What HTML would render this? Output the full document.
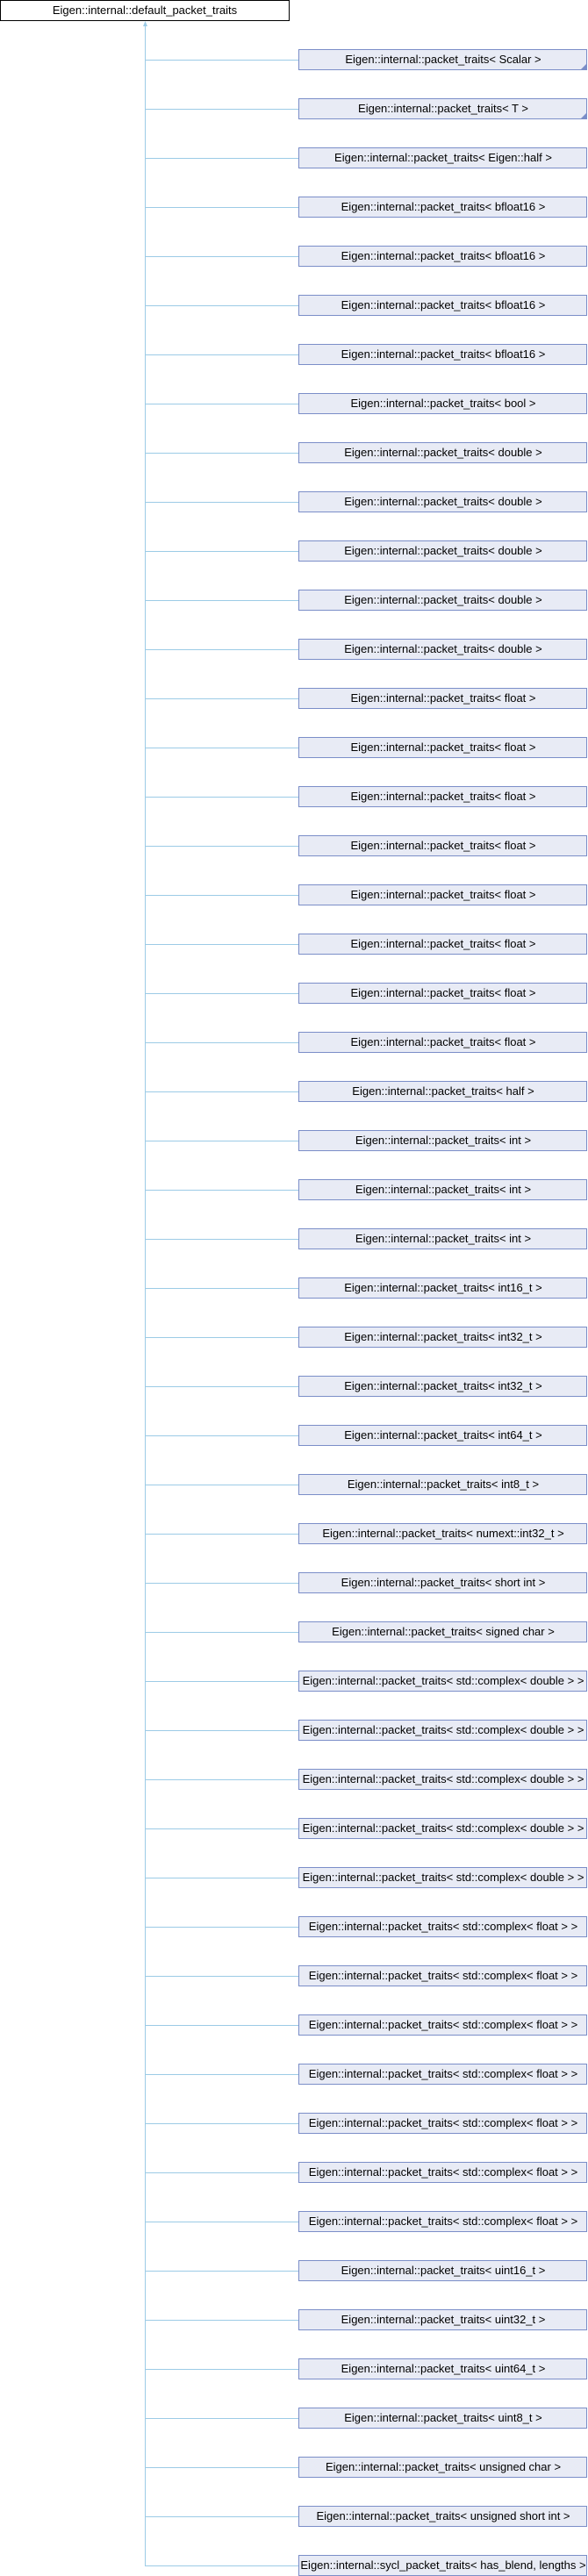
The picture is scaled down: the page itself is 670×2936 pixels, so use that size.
<!DOCTYPE html>
<html><head><meta charset="utf-8"><style>
html,body{margin:0;padding:0;background:#fff;}
svg{display:block;}
text{font-family:"Liberation Sans",Arial,sans-serif;font-size:13px;fill:#000;}
</style></head><body>
<svg width="670" height="2936" viewBox="0 0 670 2936" xmlns="http://www.w3.org/2000/svg">
<rect x="0.5" y="0.5" width="329" height="23" fill="#fff" stroke="#000"/>
<text x="165" y="16" text-anchor="middle">Eigen::internal::default_packet_traits</text>
<line x1="165.5" y1="28" x2="165.5" y2="2924" stroke="#9ccbe6" stroke-width="1"/>
<polygon points="165.5,24 163,30 168,30" fill="#9ccbe6"/>
<g id="rows"></g>
</svg>
<script>
var L=["Scalar","T","Eigen::half","bfloat16","bfloat16","bfloat16","bfloat16","bool","double","double","double","double","double","float","float","float","float","float","float","float","float","half","int","int","int","int16_t","int32_t","int32_t","int64_t","int8_t","numext::int32_t","short int","signed char","std::complex&lt; double &gt;","std::complex&lt; double &gt;","std::complex&lt; double &gt;","std::complex&lt; double &gt;","std::complex&lt; double &gt;","std::complex&lt; float &gt;","std::complex&lt; float &gt;","std::complex&lt; float &gt;","std::complex&lt; float &gt;","std::complex&lt; float &gt;","std::complex&lt; float &gt;","std::complex&lt; float &gt;","uint16_t","uint32_t","uint64_t","uint8_t","unsigned char","unsigned short int"];
var s="";
for(var i=0;i<52;i++){
 var y=56+56*i;
 var lab= i<51 ? "Eigen::internal::packet_traits&lt; "+L[i]+" &gt;" : "Eigen::internal::sycl_packet_traits&lt; has_blend, lengths &gt;";
 s+='<line x1="165" y1="'+(y+12.5)+'" x2="340" y2="'+(y+12.5)+'" stroke="#9ccbe6"/>';
 s+='<rect x="340.5" y="'+(y+0.5)+'" width="328" height="23" fill="#e8ebf5" stroke="#7b8ec8"/>';
 if(i<2) s+='<polygon points="668,'+(y+17)+' 668,'+(y+23)+' 662,'+(y+23)+'" fill="#7b8ec8"/>';
 s+='<text x="505" y="'+(y+16)+'" text-anchor="middle">'+lab+'</text>';
}
document.getElementById("rows").innerHTML=s;
</script>
</body></html>
